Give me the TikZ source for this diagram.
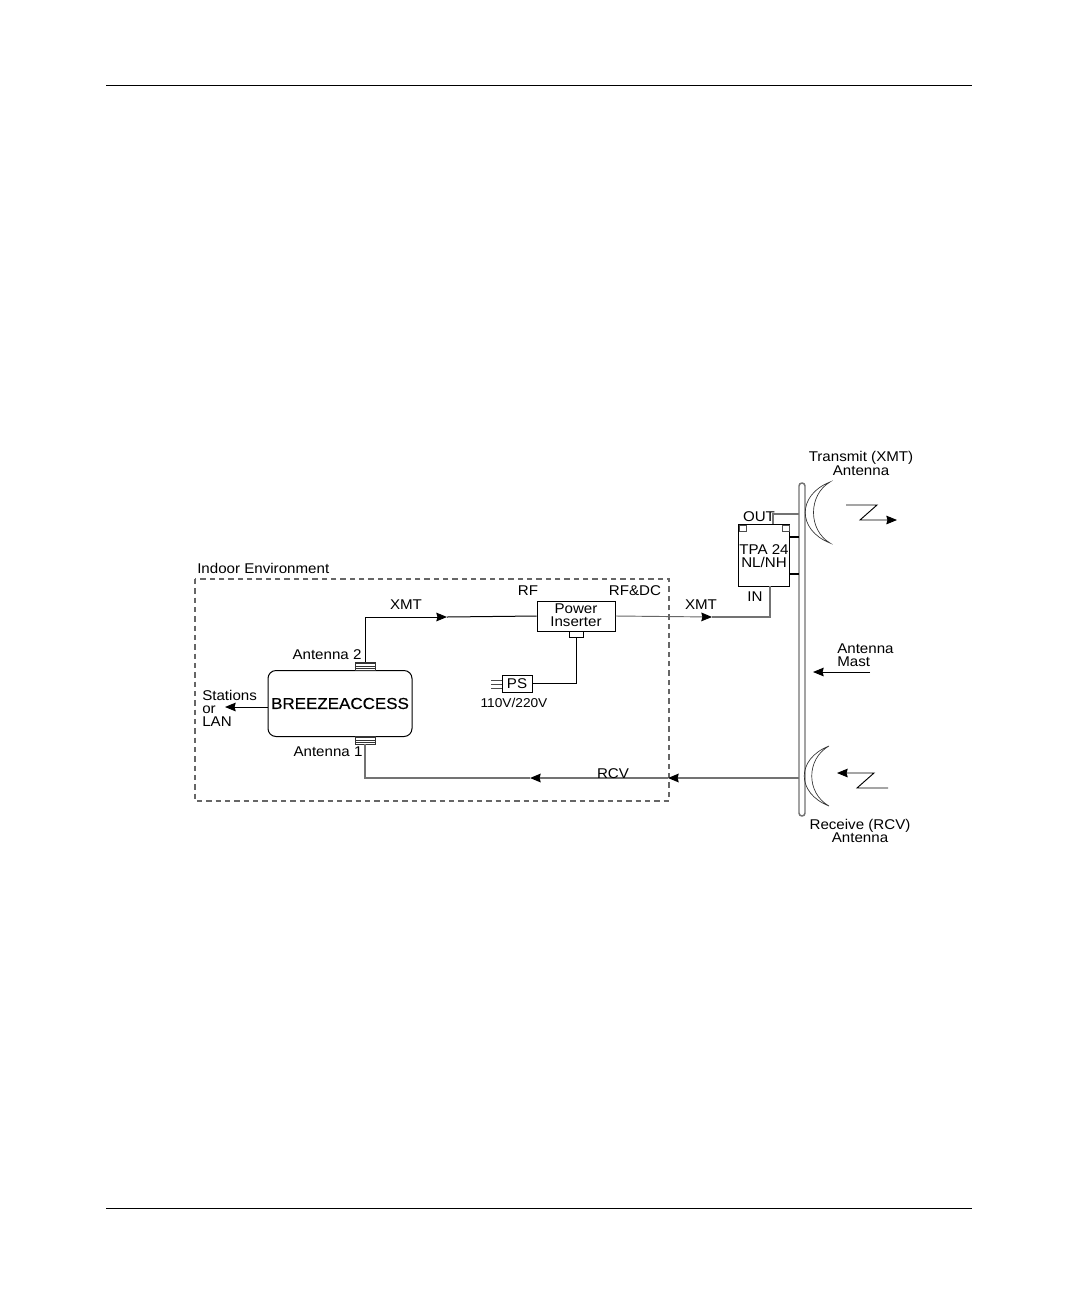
\documentclass[tikz,border=0pt]{standalone}
\usepackage{fontspec}
\setmainfont[FakeStretch=1.07]{Liberation Sans}
\newfontfamily\breezefont[FakeStretch=1.07,FakeBold=0.5]{Liberation Sans}
\usetikzlibrary{arrows.meta,calc}
\definecolor{linegray}{RGB}{115,115,115}
\newcommand{\lblfont}{\fontsize{10.6}{9.9}\selectfont\lineskiplimit=-6pt\relax}
\tikzset{
  lbl/.style={inner sep=0pt,align=center,text=black,font=\lblfont},
  lbll/.style={lbl,align=left},
  wire/.style={draw=black,line width=0.75pt},
  graywire/.style={draw=linegray,line width=1pt},
  thinwire/.style={draw=black!60,line width=0.7pt},
  arrowed/.style={-{Stealth[length=8pt,width=6.5pt,inset=0.8pt,black]}},
  rulebar/.style={draw=black,line width=0.75pt},
  boxthin/.style={draw=black,line width=0.75pt,fill=white,inner sep=0pt},
  dish/.style={draw=black!80,line width=0.5pt},
  connector/.style={draw=black!80,line width=0.5pt,minimum width=15pt,minimum height=6pt,inner sep=0pt,
    path picture={\draw[line width=0.4pt,black!80] ($(path picture bounding box.west)+(0,-2pt)$) -- ++(20,0) ($(path picture bounding box.west)$) -- ++(20,0) ($(path picture bounding box.west)+(0,2pt)$) -- ++(20,0);}},
  cornerbox/.style={draw=black!70,line width=0.4pt,fill=white,inner sep=0pt,minimum width=5pt,minimum height=4.5pt},
}
\begin{document}
\begin{tikzpicture}[x=0.75pt,y=-0.75pt]
\useasboundingbox[fill=white] (0,0) rectangle (1078,1304);
% page rules
\coordinate (tl) at (106,85); \coordinate (tr) at (972,85);
\coordinate (bl) at (106,1208); \coordinate (br) at (972,1208);
\draw[rulebar] (tl) -- (tr);
\draw[rulebar] (bl) -- (br);
% indoor dashed frame
\draw[draw=black!60,line width=0.8pt,dash pattern=on 4pt off 3pt] (195,579) rectangle (669,801);
\node[lbll,anchor=west] (indoor) at (197,568) {Indoor Environment};
% BreezeAccess
\node[draw=black,line width=0.75pt,rounded corners=6pt,minimum width=108pt,minimum height=49.5pt,inner sep=0pt,font=\breezefont\fontsize{11.9}{14}\selectfont] (ba) at (340,703.5) {BREEZEACCESS};
\node[connector] (conT) at (365,666) {};
\node[connector] (conB) at (365,740) {};
\node[lbl] (ant2) at (327,655) {Antenna 2};
\node[lbl] (ant1) at (328,752) {Antenna 1};
\node[lbll,anchor=west] (stations) at (202,708.5) {Stations\\or\\LAN};
\coordinate (stTip) at (225,707);
\draw[wire,arrowed] (ba.west |- stTip) -- (stTip);
% Power inserter
\node[boxthin,minimum width=58.5pt,minimum height=22.5pt] (pi) at (576,616) {};
\node[lbl] (pitext) at (576,615.5) {Power\\Inserter};
\node[boxthin,line width=0.6pt,minimum width=11pt,minimum height=4.5pt] (notch) at (576.5,634) {};
\node[lbl] (rf) at (528,591) {RF};
\node[lbl] (rfdc) at (635,591) {RF\&DC};
\node[boxthin,minimum width=22.5pt,minimum height=12.75pt,font=\fontsize{10.6}{12}\selectfont] (ps) at (517,683.5) {PS};
\node[lbl,font=\fontsize{9.6}{11}\selectfont] (volt) at (514,703) {110V/220V};
\coordinate (pr1) at (491,680); \coordinate (pr2) at (491,684); \coordinate (pr3) at (491,688);
\draw[line width=0.5pt,black!70] (pr1) -- (pr1 -| ps.west) (pr2) -- (pr2 -| ps.west) (pr3) -- (pr3 -| ps.west);
\draw[wire] (notch.south) |- (ps.east);
% XMT indoor
\coordinate (xmtA) at (447,617);
\draw[wire,arrowed] (conT.north) |- (xmtA);
\draw[wire] (xmtA) -- (pi.west);
\node[lbl] (xmt1) at (406,605) {XMT};
% XMT outdoor
\node[boxthin,minimum width=38.25pt,minimum height=46.5pt] (tpa) at (763.5,555) {};
\node[lbl] (tpatext) at (764,556) {TPA 24\\NL/NH};
\node[cornerbox] (sq1) at (742.5,528) {};
\node[cornerbox] (sq2) at (785.5,528) {};
\coordinate (xmtB) at (712,617);
\coordinate (tpaIn) at (770,586);
\draw[thinwire,arrowed] (pi.east) -- (xmtB);
\draw[graywire] (xmtB) -| (tpaIn);
\node[lbl] (xmt2) at (701,605) {XMT};
\node[lbl] (in) at (755,597) {IN};
\node[lbl] (out) at (759,517) {OUT};
% mast
\draw[draw=linegray,line width=1.1pt,rounded corners=2.2pt] (799,816) rectangle (805,483);
\coordinate (mTop) at (799,514);
\coordinate (tpaOut) at (773,524);
\draw[graywire] (tpaOut) |- (mTop);
\coordinate (t1) at (799,537); \coordinate (t2) at (799,574);
\draw[black,line width=1.8pt] (t1) -- (t1 -| tpa.east);
\draw[black,line width=1.8pt] (t2) -- (t2 -| tpa.east);
% RCV line
\coordinate (mRcv) at (799,778);
\coordinate (rcvA) at (668,778);
\coordinate (rcvB) at (530,778);
\draw[graywire,arrowed] (mRcv) -- (rcvA);
\draw[graywire,arrowed] (rcvA) -- (rcvB);
\draw[graywire] (rcvB) -| (conB.south);
\node[lbl] (rcv) at (613,774) {RCV};
% dishes
\draw[dish] (830,482) .. controls (797,495) and (797,530) .. (830,543) .. controls (808,530) and (808,495) .. cycle;
\draw[dish] (829,746) .. controls (796,759) and (796,793) .. (829,806) .. controls (806,793) and (806,759) .. cycle;
\node[lbl] (txlab) at (861,463.5) {Transmit (XMT)\\Antenna};
\node[lbl] (rxlab) at (860,831) {Receive (RCV)\\Antenna};
% zigzags
\coordinate (z1) at (846,505); \coordinate (z2) at (877,505); \coordinate (z3) at (860,520); \coordinate (z4) at (897,520);
\draw[black,line width=0.7pt,arrowed] (z1) -- (z2) -- (z3) -- (z4);
\coordinate (y1) at (888,788); \coordinate (y2) at (857,788); \coordinate (y3) at (874,773); \coordinate (y4) at (837,773);
\draw[black,line width=0.7pt,arrowed] (y1) -- (y2) -- (y3) -- (y4);
% mast label
\node[lbll,anchor=west] (mastlab) at (837,655.5) {Antenna\\Mast};
\coordinate (mStart) at (870,672); \coordinate (mTip) at (813,672);
\draw[wire,arrowed] (mStart) -- (mTip);
\end{tikzpicture}
\end{document}
